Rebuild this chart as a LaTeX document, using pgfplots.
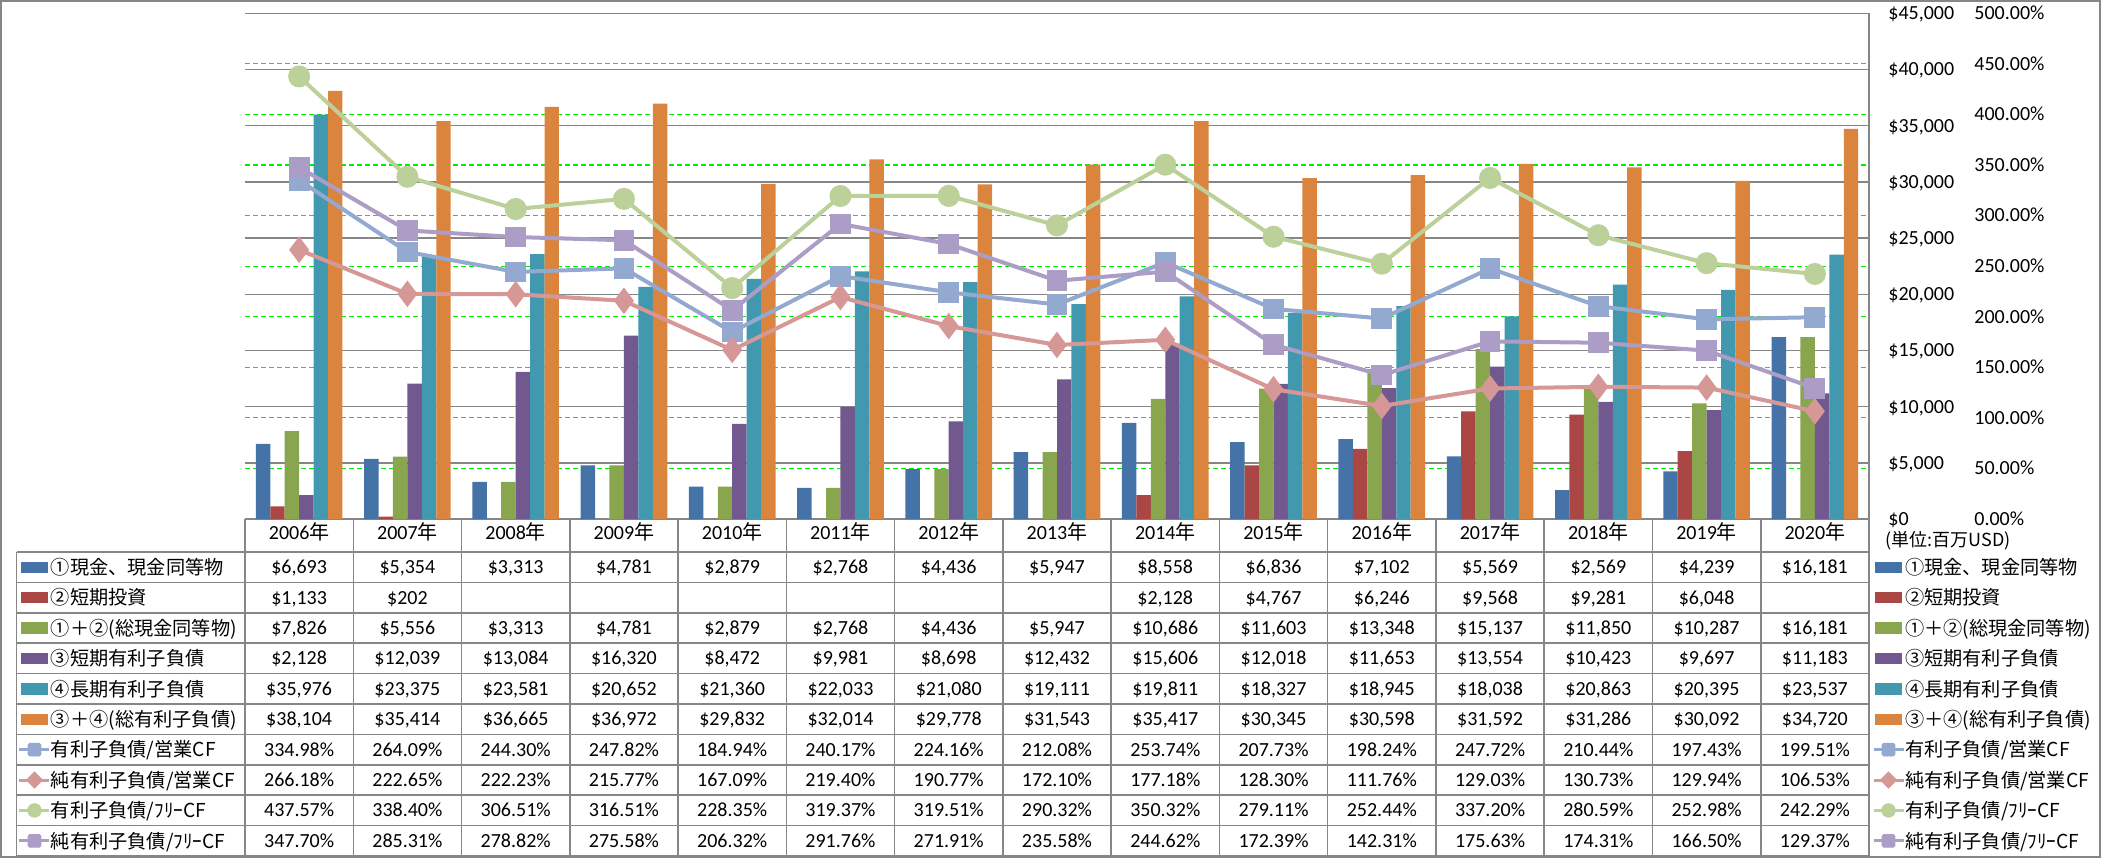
\documentclass[border=0pt]{standalone}
\usepackage{fontspec}
\usepackage{pgfplots}
\pgfplotsset{compat=1.18}
\setmainfont{Carlito}
\newfontfamily\jp{Noto Sans CJK JP}
\definecolor{cA}{HTML}{4572A7}
\definecolor{cB}{HTML}{AA4643}
\definecolor{cC}{HTML}{89A54E}
\definecolor{cD}{HTML}{71588F}
\definecolor{cE}{HTML}{4198AF}
\definecolor{cF}{HTML}{DB843D}
\definecolor{lA}{HTML}{93A9CF}
\definecolor{lB}{HTML}{D59896}
\definecolor{lC}{HTML}{BCD09A}
\definecolor{lD}{HTML}{AC9DC6}
\definecolor{gg}{HTML}{868686}
\definecolor{gl}{HTML}{00F000}
\pgfplotsset{
  bA/.style={legend image code/.code={\fill[cA] (1pt,-2.6pt) rectangle (14pt,2.6pt);}},
  bB/.style={legend image code/.code={\fill[cB] (1pt,-2.6pt) rectangle (14pt,2.6pt);}},
  bC/.style={legend image code/.code={\fill[cC] (1pt,-2.6pt) rectangle (14pt,2.6pt);}},
  bD/.style={legend image code/.code={\fill[cD] (1pt,-2.6pt) rectangle (14pt,2.6pt);}},
  bE/.style={legend image code/.code={\fill[cE] (1pt,-2.6pt) rectangle (14pt,2.6pt);}},
  bF/.style={legend image code/.code={\fill[cF] (1pt,-2.6pt) rectangle (14pt,2.6pt);}},
  kA/.style={legend image code/.code={\draw[lA,line width=1.5pt] (0pt,0pt)--(15pt,0pt); \fill[lA,rounded corners=0.8pt] (4.3pt,-3.2pt) rectangle (10.7pt,3.2pt);}},
  kB/.style={legend image code/.code={\draw[lB,line width=1.5pt] (0pt,0pt)--(15pt,0pt); \fill[lB] (7.5pt,4pt)--(11.5pt,0pt)--(7.5pt,-4pt)--(3.5pt,0pt)--cycle;}},
  kC/.style={legend image code/.code={\draw[lC,line width=1.5pt] (0pt,0pt)--(15pt,0pt); \fill[lC] (7.5pt,0pt) circle (3.4pt);}},
  kD/.style={legend image code/.code={\draw[lD,line width=1.5pt] (0pt,0pt)--(15pt,0pt); \fill[lD,rounded corners=0.8pt] (4.3pt,-3.2pt) rectangle (10.7pt,3.2pt);}},
  tbleg/.style={legend style={at={(#1,-0.06526)}, anchor=north west, draw=none, fill=none,
     inner sep=0pt, outer sep=0pt, row sep=0pt, column sep=0pt,
     font=\jp\fontsize{9.6}{12}\selectfont,
     nodes={inner sep=0pt, text height=11.25pt, text depth=3.95pt}},
     legend cell align=left},
  base/.style={at={(122.5pt,-259.5pt)}, anchor=south west, width=812pt, height=252.85pt,
     scale only axis, xmin=-0.5, xmax=14.5, axis line style={draw=none}, major tick length=0pt},
}
\newcommand\trow[2]{\foreach \v [count=\j from 0] in {#2}{\node[font=\fontsize{10}{12}\selectfont, anchor=center, inner sep=0pt, text height=6.4pt, text depth=0pt] at ({299.13+108.267*\j},{567.2+30.4*#1}) {\v};}}
\newcommand\allkeys{%
  \addlegendimage{bA}\addlegendentry{①現金、現金同等物}
  \addlegendimage{bB}\addlegendentry{②短期投資}
  \addlegendimage{bC}\addlegendentry{①＋②(総現金同等物)}
  \addlegendimage{bD}\addlegendentry{③短期有利子負債}
  \addlegendimage{bE}\addlegendentry{④長期有利子負債}
  \addlegendimage{bF}\addlegendentry{③＋④(総有利子負債)}
  \addlegendimage{kA}\addlegendentry{有利子負債/営業CF}
  \addlegendimage{kB}\addlegendentry{純有利子負債/営業CF}
  \addlegendimage{kC}\addlegendentry{有利子負債/ﾌﾘｰCF}
  \addlegendimage{kD}\addlegendentry{純有利子負債/ﾌﾘｰCF}}
\begin{document}
\begin{tikzpicture}[x=0.5pt,y=-0.5pt]
\useasboundingbox (0,0) rectangle (2101,858);
% percent grid, labels and left legend
\begin{axis}[base, ymin=0, ymax=500, xtick=\empty,
  ytick={0,50,...,500}, ytick pos=right,
  yticklabels={0.00\%,50.00\%,100.00\%,150.00\%,200.00\%,250.00\%,300.00\%,350.00\%,400.00\%,450.00\%,500.00\%},
  yticklabel style={anchor=west, inner sep=0pt, xshift=52.5pt, font=\fontsize{10}{12}\selectfont, text height=6.4pt, text depth=0pt},
  ymajorgrids, major grid style={gl, line width=0.6pt, dash pattern=on 2.5pt off 1.5pt},
  tbleg=-0.13978]
\allkeys
\draw[gl, line width=0.6pt, dash pattern=on 2.5pt off 1.5pt] ([xshift=43.5pt]rel axis cs:1,0) -- ([xshift=43.5pt]rel axis cs:1,1);
\pgfplotsinvokeforeach{0,50,...,500}{\draw[gl, line width=0.6pt] ([xshift=43.5pt]axis cs:14.5,#1) -- ++(2pt,0pt);}
\end{axis}
% bars
\begin{axis}[base, ymin=0, ymax=45000,
  xtick={0,...,14},
  xticklabels={2006{\jp 年},2007{\jp 年},2008{\jp 年},2009{\jp 年},2010{\jp 年},2011{\jp 年},2012{\jp 年},2013{\jp 年},2014{\jp 年},2015{\jp 年},2016{\jp 年},2017{\jp 年},2018{\jp 年},2019{\jp 年},2020{\jp 年}},
  xticklabel style={anchor=center, inner sep=0pt, yshift=-7pt, font=\fontsize{10}{12}\selectfont, text height=6.4pt, text depth=0pt},
  ytick={0,5000,...,45000}, ytick pos=right,
  yticklabels={\$0,{\$5,000},{\$10,000},{\$15,000},{\$20,000},{\$25,000},{\$30,000},{\$35,000},{\$40,000},{\$45,000}},
  yticklabel style={anchor=west, inner sep=0pt, xshift=9.5pt, font=\fontsize{10}{12}\selectfont, text height=6.4pt, text depth=0pt},
  ymajorgrids, major grid style={gg, line width=0.75pt},
  ybar=0pt, bar width=7.22pt]
\addplot[fill=cA, draw=none] coordinates {(0,6693) (1,5354) (2,3313) (3,4781) (4,2879) (5,2768) (6,4436) (7,5947) (8,8558) (9,6836) (10,7102) (11,5569) (12,2569) (13,4239) (14,16181)};
\addplot[fill=cB, draw=none] coordinates {(0,1133) (1,202) (8,2128) (9,4767) (10,6246) (11,9568) (12,9281) (13,6048)};
\addplot[fill=cC, draw=none] coordinates {(0,7826) (1,5556) (2,3313) (3,4781) (4,2879) (5,2768) (6,4436) (7,5947) (8,10686) (9,11603) (10,13348) (11,15137) (12,11850) (13,10287) (14,16181)};
\addplot[fill=cD, draw=none] coordinates {(0,2128) (1,12039) (2,13084) (3,16320) (4,8472) (5,9981) (6,8698) (7,12432) (8,15606) (9,12018) (10,11653) (11,13554) (12,10423) (13,9697) (14,11183)};
\addplot[fill=cE, draw=none] coordinates {(0,35976) (1,23375) (2,23581) (3,20652) (4,21360) (5,22033) (6,21080) (7,19111) (8,19811) (9,18327) (10,18945) (11,18038) (12,20863) (13,20395) (14,23537)};
\addplot[fill=cF, draw=none] coordinates {(0,38104) (1,35414) (2,36665) (3,36972) (4,29832) (5,32014) (6,29778) (7,31543) (8,35417) (9,30345) (10,30598) (11,31592) (12,31286) (13,30092) (14,34720)};
\end{axis}
% ratio lines and right legend
\begin{axis}[base, ymin=0, ymax=500, hide axis, clip=false, tbleg=1.00185]
\allkeys
\addplot[forget plot, lA, line width=2pt, mark=square*, mark size=4.2pt, mark options={solid, fill=lA, rounded corners=1pt}] coordinates {(0,334.98) (1,264.09) (2,244.30) (3,247.82) (4,184.94) (5,240.17) (6,224.16) (7,212.08) (8,253.74) (9,207.73) (10,198.24) (11,247.72) (12,210.44) (13,197.43) (14,199.51)};
\addplot[forget plot, lB, line width=2pt, mark=diamond*, mark size=5pt, mark options={solid, fill=lB}] coordinates {(0,266.18) (1,222.65) (2,222.23) (3,215.77) (4,167.09) (5,219.40) (6,190.77) (7,172.10) (8,177.18) (9,128.30) (10,111.76) (11,129.03) (12,130.73) (13,129.94) (14,106.53)};
\addplot[forget plot, lC, line width=2pt, mark=*, mark size=4.5pt, mark options={solid, fill=lC}] coordinates {(0,437.57) (1,338.40) (2,306.51) (3,316.51) (4,228.35) (5,319.37) (6,319.51) (7,290.32) (8,350.32) (9,279.11) (10,252.44) (11,337.20) (12,280.59) (13,252.98) (14,242.29)};
\addplot[forget plot, lD, line width=2pt, mark=square*, mark size=4.2pt, mark options={solid, fill=lD, rounded corners=1pt}] coordinates {(0,347.70) (1,285.31) (2,278.82) (3,275.58) (4,206.32) (5,291.76) (6,271.91) (7,235.58) (8,244.62) (9,172.39) (10,142.31) (11,175.63) (12,174.31) (13,166.50) (14,129.37)};
\end{axis}
% data table
\begin{scope}[gg, line width=0.75pt]
\foreach \k in {0,...,10}{\pgfmathsetmacro\yy{552+30.4*\k}\draw (16.5,\yy) -- (1869,\yy);}
\foreach \jj in {0,...,14}{\pgfmathsetmacro\xx{245+108.267*\jj}\draw (\xx,519) -- (\xx,856);}
\draw (1869,13.3) -- (1869,856);
\draw (16.5,552) -- (16.5,856);
\end{scope}
\trow{0}{{\$6,693},{\$5,354},{\$3,313},{\$4,781},{\$2,879},{\$2,768},{\$4,436},{\$5,947},{\$8,558},{\$6,836},{\$7,102},{\$5,569},{\$2,569},{\$4,239},{\$16,181}}
\trow{1}{{\$1,133},{\$202},{},{},{},{},{},{},{\$2,128},{\$4,767},{\$6,246},{\$9,568},{\$9,281},{\$6,048},{}}
\trow{2}{{\$7,826},{\$5,556},{\$3,313},{\$4,781},{\$2,879},{\$2,768},{\$4,436},{\$5,947},{\$10,686},{\$11,603},{\$13,348},{\$15,137},{\$11,850},{\$10,287},{\$16,181}}
\trow{3}{{\$2,128},{\$12,039},{\$13,084},{\$16,320},{\$8,472},{\$9,981},{\$8,698},{\$12,432},{\$15,606},{\$12,018},{\$11,653},{\$13,554},{\$10,423},{\$9,697},{\$11,183}}
\trow{4}{{\$35,976},{\$23,375},{\$23,581},{\$20,652},{\$21,360},{\$22,033},{\$21,080},{\$19,111},{\$19,811},{\$18,327},{\$18,945},{\$18,038},{\$20,863},{\$20,395},{\$23,537}}
\trow{5}{{\$38,104},{\$35,414},{\$36,665},{\$36,972},{\$29,832},{\$32,014},{\$29,778},{\$31,543},{\$35,417},{\$30,345},{\$30,598},{\$31,592},{\$31,286},{\$30,092},{\$34,720}}
\trow{6}{334.98\%,264.09\%,244.30\%,247.82\%,184.94\%,240.17\%,224.16\%,212.08\%,253.74\%,207.73\%,198.24\%,247.72\%,210.44\%,197.43\%,199.51\%}
\trow{7}{266.18\%,222.65\%,222.23\%,215.77\%,167.09\%,219.40\%,190.77\%,172.10\%,177.18\%,128.30\%,111.76\%,129.03\%,130.73\%,129.94\%,106.53\%}
\trow{8}{437.57\%,338.40\%,306.51\%,316.51\%,228.35\%,319.37\%,319.51\%,290.32\%,350.32\%,279.11\%,252.44\%,337.20\%,280.59\%,252.98\%,242.29\%}
\trow{9}{347.70\%,285.31\%,278.82\%,275.58\%,206.32\%,291.76\%,271.91\%,235.58\%,244.62\%,172.39\%,142.31\%,175.63\%,174.31\%,166.50\%,129.37\%}
\node[anchor=west, inner sep=0pt, font=\jp\fontsize{9}{11}\selectfont] at (1885,541) {(単位:百万USD)};
\draw[gg, line width=1pt] (1,1) rectangle (2100,857);
\end{tikzpicture}
\end{document}
